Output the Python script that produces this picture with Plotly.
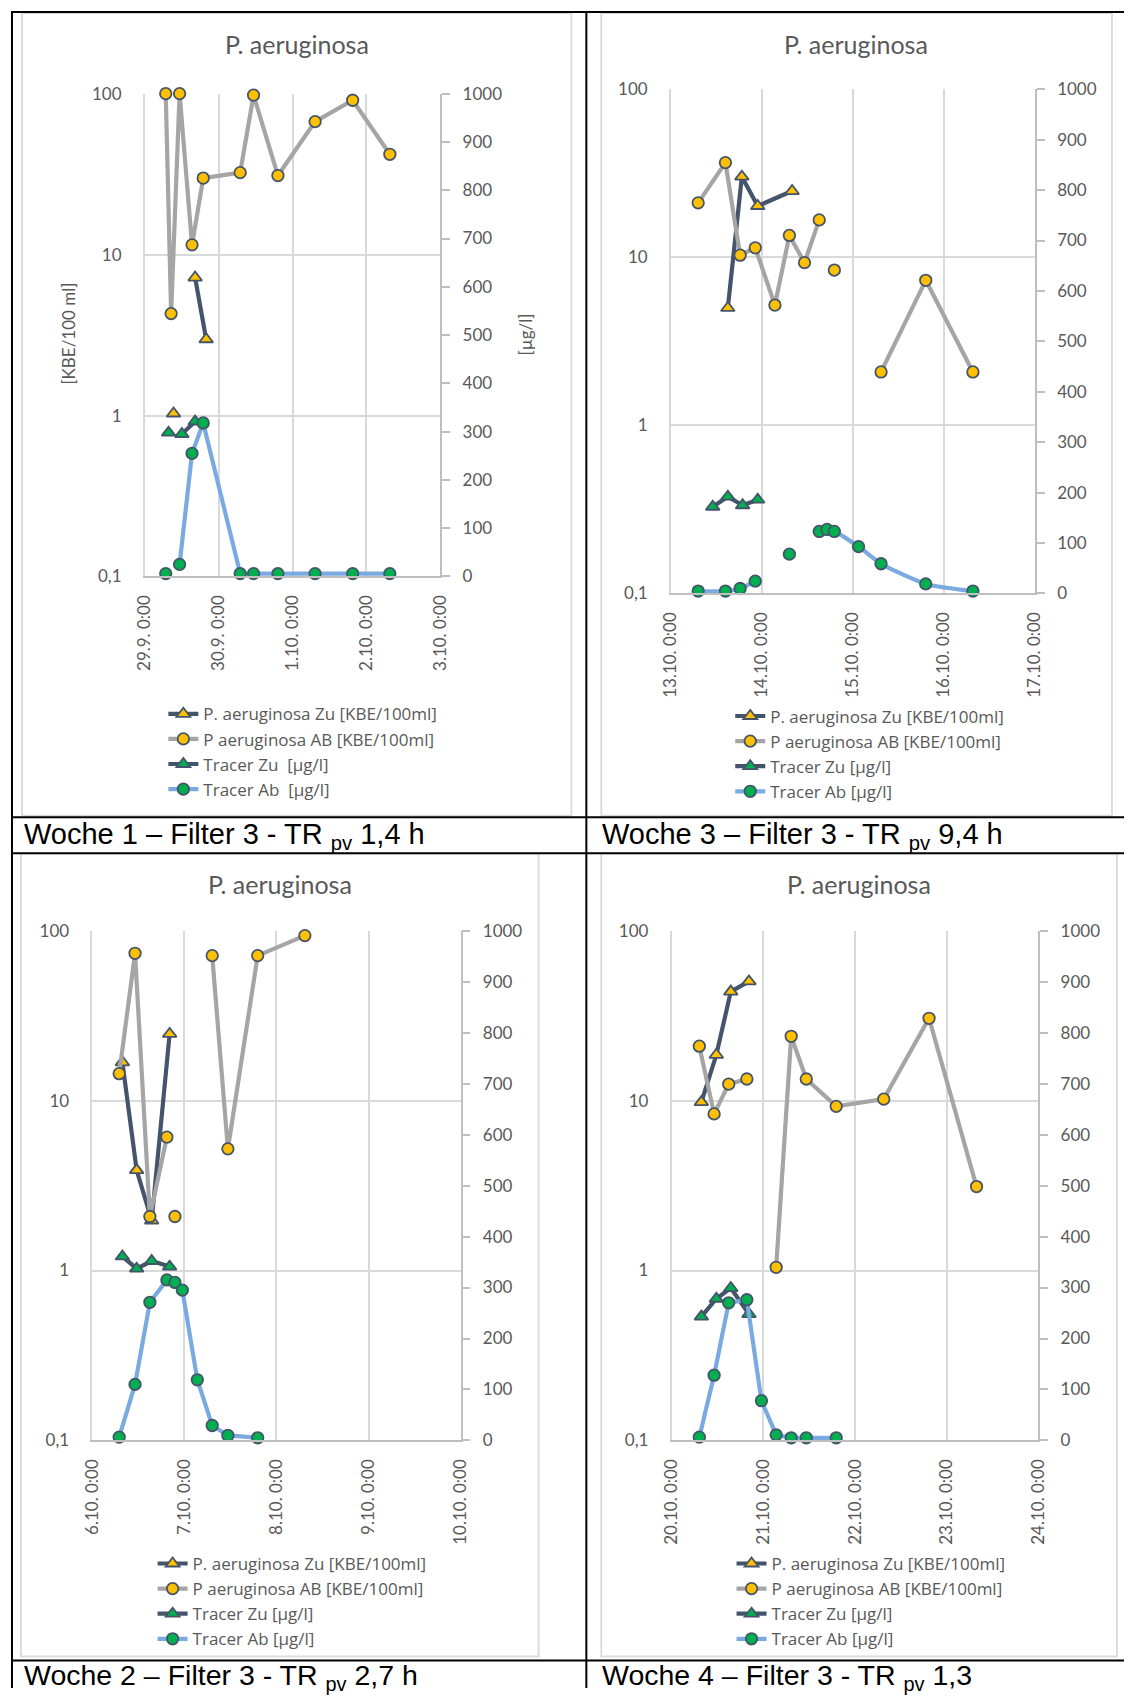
import plotly.graph_objects as go

W, H = 1134, 1698

# ---------------- data ----------------
NAMES = ["P. aeruginosa Zu [KBE/100ml]", "P aeruginosa AB [KBE/100ml]",
         "Tracer Zu [µg/l]", "Tracer Ab [µg/l]"]
NAMES_W1 = ["P. aeruginosa Zu [KBE/100ml]", "P aeruginosa AB [KBE/100ml]",
            "Tracer Zu \u00a0[µg/l]", "Tracer Ab \u00a0[µg/l]"]

# Woche 1 (29.9. - 3.10.)
w1_range = ["2019-09-29 00:00", "2019-10-03 00:00"]
w1_zu_x = ["2019-09-29 09:22", None, "2019-09-29 16:22", "2019-09-29 19:57"]
w1_zu_y = [1.03, None, 7.2, 2.98]
w1_ab_x = ["2019-09-29 06:50", "2019-09-29 08:35", "2019-09-29 11:20", "2019-09-29 15:22",
           "2019-09-29 19:00", "2019-09-30 07:00", "2019-09-30 11:20", "2019-09-30 19:15",
           "2019-10-01 07:19", "2019-10-01 19:31", "2019-10-02 07:35"]
w1_ab_y = [100, 4.3, 100, 11.5, 29.9, 32.3, 98, 31, 67, 91, 42]
w1_tzu_x = ["2019-09-29 07:45", None, "2019-09-29 12:04", "2019-09-29 16:22"]
w1_tzu_y = [298, None, 295, 321]
w1_tab_x = ["2019-09-29 06:50", None, "2019-09-29 11:20", "2019-09-29 15:22",
            "2019-09-29 19:00", "2019-09-30 07:00", "2019-09-30 11:20", "2019-09-30 19:15",
            "2019-10-01 07:19", "2019-10-01 19:31", "2019-10-02 07:35"]
w1_tab_y = [6, None, 25, 255, 318, 6, 6, 6, 6, 6, 6]

# Woche 3 (13.10. - 17.10.)
w3_range = ["2019-10-13 00:00", "2019-10-17 00:00"]
w3_zu_x = ["2019-10-13 15:01", "2019-10-13 18:43", "2019-10-13 22:54", "2019-10-14 07:58"]
w3_zu_y = [5.0, 30.2, 20.2, 24.8]
w3_ab_x = ["2019-10-13 07:12", "2019-10-13 14:23", "2019-10-13 18:16", "2019-10-13 22:15",
           "2019-10-14 03:26", "2019-10-14 07:15", "2019-10-14 11:14", "2019-10-14 15:07",
           None, "2019-10-14 19:06", None,
           "2019-10-15 07:25", "2019-10-15 19:12", "2019-10-16 07:38"]
w3_ab_y = [21.1, 36.6, 10.3, 11.4, 5.2, 13.5, 9.3, 16.7, None, 8.4, None, 2.08, 7.3, 2.08]
w3_tzu_x = ["2019-10-13 11:02", "2019-10-13 15:01", "2019-10-13 18:55", "2019-10-13 22:54"]
w3_tzu_y = [172, 192, 175, 186]
w3_tab_x = ["2019-10-13 07:12", "2019-10-13 14:23", "2019-10-13 18:16", "2019-10-13 22:15",
            None, "2019-10-14 07:15", None,
            "2019-10-14 15:07", "2019-10-14 17:10", "2019-10-14 19:06", "2019-10-15 01:29",
            "2019-10-15 07:25", "2019-10-15 19:12", "2019-10-16 07:38"]
w3_tab_y = [4.8, 4.8, 9.9, 24.5, None, 78, None, 123, 127, 123, 93, 59, 19, 4.8]

# Woche 2 (6.10. - 10.10.)
w2_range = ["2019-10-06 00:00", "2019-10-10 00:00"]
w2_zu_x = ["2019-10-06 07:50", "2019-10-06 11:33", "2019-10-06 15:28", "2019-10-06 20:09"]
w2_zu_y = [16.8, 3.9, 1.97, 24.7]
w2_ab_x = ["2019-10-06 07:00", "2019-10-06 11:08", "2019-10-06 15:00", "2019-10-06 19:26",
           None, "2019-10-06 21:32", None,
           "2019-10-07 07:15", "2019-10-07 11:20", "2019-10-07 19:06", "2019-10-08 07:24"]
w2_ab_y = [14.4, 73.6, 2.08, 6.1, None, 2.08, None, 71.3, 5.2, 71.3, 93.5]
w2_tzu_x = ["2019-10-06 07:50", "2019-10-06 11:33", "2019-10-06 15:28", "2019-10-06 20:09"]
w2_tzu_y = [361, 337, 352, 341]
w2_tab_x = ["2019-10-06 07:00", "2019-10-06 11:08", "2019-10-06 15:00", "2019-10-06 19:26",
            "2019-10-06 21:32", "2019-10-06 23:28", "2019-10-07 03:22", "2019-10-07 07:15",
            "2019-10-07 11:20", "2019-10-07 19:06"]
w2_tab_y = [6.5, 110, 271, 315, 310, 295, 119, 29.4, 9.8, 5.2]

# Woche 4 (20.10. - 24.10.)
w4_range = ["2019-10-20 00:00", "2019-10-24 00:00"]
w4_zu_x = ["2019-10-20 07:48", "2019-10-20 11:43", "2019-10-20 15:30", "2019-10-20 20:15"]
w4_zu_y = [9.8, 18.6, 43.8, 50.3]
w4_ab_x = ["2019-10-20 07:16", "2019-10-20 11:08", "2019-10-20 14:57", "2019-10-20 19:42",
           None, "2019-10-21 03:22", "2019-10-21 07:18", "2019-10-21 11:15",
           "2019-10-21 19:05", "2019-10-22 07:31", "2019-10-22 19:22", "2019-10-23 07:48"]
w4_ab_y = [20.9, 8.35, 12.5, 13.4, None, 1.045, 23.9, 13.4, 9.25, 10.2, 30.5, 3.12]
w4_tzu_x = ["2019-10-20 07:48", "2019-10-20 11:43", "2019-10-20 15:30", "2019-10-20 20:15"]
w4_tzu_y = [243, 278, 299, 248]
w4_tab_x = ["2019-10-20 07:16", "2019-10-20 11:08", "2019-10-20 14:57", "2019-10-20 19:42",
            "2019-10-20 23:31", "2019-10-21 03:22", "2019-10-21 07:18", "2019-10-21 11:15",
            "2019-10-21 19:05"]
w4_tab_y = [6.5, 128, 270, 276, 78, 11, 5.2, 5.2, 5.2]

CHART_TITLE = "P. aeruginosa"
CAPTIONS = ["Woche 1 – Filter 3 - TR <sub>pv</sub> 1,4 h",
            "Woche 3 – Filter 3 - TR <sub>pv</sub> 9,4 h",
            "Woche 2 – Filter 3 - TR <sub>pv</sub> 2,7 h",
            "Woche 4 – Filter 3 - TR <sub>pv</sub> 1,3"]
LEFT_TITLE = "[KBE/100 ml]"
RIGHT_TITLE = "[µg/l]"

# ---------------- styles ----------------
NAVY = "#44546A"
GREY = "#A5A5A5"
GOLD = "#FFC000"
GREEN = "#00B050"
LBLUE = "#7BAAE0"
GRID = "#D9D9D9"
AXL = "#BFBFBF"
TXT = "#595959"
FONT = "Lato, 'Open Sans', sans-serif"
LEGFONT = "'Open Sans', Lato, sans-serif"
LW = 4.2

# the page photo adds a small border and scale; map target pixel positions to figure pixels
OFF_X, SC_X = 10.0, 0.986
OFF_Y, SC_Y = 10.0, 0.988

def X(d):
    return min(max((d - OFF_X) / SC_X, 0.0), W)

def Y(d):
    return min(max((d - OFF_Y) / SC_Y, 0.0), H)

def px(x):
    return x / W

def py(y):
    return 1 - y / H

panels = [
    dict(data=(w1_zu_x, w1_zu_y, w1_ab_x, w1_ab_y, w1_tzu_x, w1_tzu_y, w1_tab_x, w1_tab_y),
         rng=w1_range, names=NAMES_W1, plot=(144.3, 441.4, 92.7, 575.7), box=(21, 573, 12, 815),
         leg=(202.5, 712.6), title=(297, 43.3), cap=(21, Y(835), 29), axis_titles=True, spline=False),
    dict(data=(w3_zu_x, w3_zu_y, w3_ab_x, w3_ab_y, w3_tzu_x, w3_tzu_y, w3_tab_x, w3_tab_y),
         rng=w3_range, names=NAMES, plot=(672.9, 1038.7, 88.3, 592.7), box=(603, 1116, 12, 815),
         leg=(772, 714.8), title=(859, 43.3), cap=(602, Y(835), 29), axis_titles=False, spline=True),
    dict(data=(w2_zu_x, w2_zu_y, w2_ab_x, w2_ab_y, w2_tzu_x, w2_tzu_y, w2_tab_x, w2_tab_y),
         rng=w2_range, names=NAMES, plot=(91.7, 461.7, 930, 1440), box=(20, 540, 853, 1656),
         leg=(191.7, 1562.6), title=(280, 883), cap=(21, 1686.5, 28.5), axis_titles=False, spline=False),
    dict(data=(w4_zu_x, w4_zu_y, w4_ab_x, w4_ab_y, w4_tzu_x, w4_tzu_y, w4_tab_x, w4_tab_y),
         rng=w4_range, names=NAMES, plot=(673.6, 1042.2, 930, 1440), box=(603, 1121, 853, 1656),
         leg=(773.3, 1562.6), title=(862, 883), cap=(602, 1686.5, 28.5), axis_titles=False, spline=False),
]

fig = go.Figure()
layout = dict(
    width=W, height=H, autosize=False,
    margin=dict(l=0, r=0, t=0, b=0),
    paper_bgcolor="white", plot_bgcolor="white",
    separators=",.",
    font=dict(family=FONT, color=TXT, size=17),
    showlegend=True,
)
shapes = []
annotations = []

for i, p in enumerate(panels):
    k = i + 1
    xa = "x" if k == 1 else f"x{k}"
    ya_n = 2 * k - 1
    yb_n = 2 * k
    ya = "y" if ya_n == 1 else f"y{ya_n}"
    yb = f"y{yb_n}"
    legname = "legend" if k == 1 else f"legend{k}"
    zu_x, zu_y, ab_x, ab_y, tzu_x, tzu_y, tab_x, tab_y = p["data"]
    names = p["names"]
    mline = dict(color=NAVY, width=1.8)

    fig.add_trace(go.Scatter(x=zu_x, y=zu_y, name=names[0], mode="lines+markers",
                             line=dict(color=NAVY, width=LW),
                             marker=dict(symbol="triangle-up", size=12, color=GOLD, line=mline),
                             xaxis=xa, yaxis=ya, legend=legname, cliponaxis=False))
    fig.add_trace(go.Scatter(x=ab_x, y=ab_y, name=names[1], mode="lines+markers",
                             line=dict(color=GREY, width=LW),
                             marker=dict(symbol="circle", size=11.5, color=GOLD, line=mline),
                             xaxis=xa, yaxis=ya, legend=legname, cliponaxis=False))
    fig.add_trace(go.Scatter(x=tzu_x, y=tzu_y, name=names[2], mode="lines+markers",
                             line=dict(color=NAVY, width=LW),
                             marker=dict(symbol="triangle-up", size=12, color=GREEN, line=mline),
                             xaxis=xa, yaxis=yb, legend=legname, cliponaxis=False))
    fig.add_trace(go.Scatter(x=tab_x, y=tab_y, name=names[3], mode="lines+markers",
                             line=dict(color=LBLUE, width=LW,
                                       shape="spline" if p["spline"] else "linear", smoothing=0.6),
                             marker=dict(symbol="circle", size=11.5, color=GREEN, line=mline),
                             xaxis=xa, yaxis=yb, legend=legname, cliponaxis=False))

    x0, x1, yt, ybm = p["plot"]
    xkey = "xaxis" if k == 1 else f"xaxis{k}"
    ykey_a = "yaxis" if ya_n == 1 else f"yaxis{ya_n}"
    ykey_b = f"yaxis{yb_n}"
    layout[xkey] = dict(
        domain=[px(X(x0)), px(X(x1))], anchor=ya, type="date", range=p["rng"],
        tick0=p["rng"][0], dtick=86400000, tickformat="%-d.%-m. %-H:%M",
        tickangle=-90, showgrid=True, gridcolor=GRID, gridwidth=1.5,
        showline=True, linecolor=AXL, linewidth=1.8, ticks="",
        ticklabelstandoff=10, tickfont=dict(size=17, color=TXT, family=FONT),
        zeroline=False, fixedrange=True,
    )
    layout[ykey_a] = dict(
        domain=[py(Y(ybm)), py(Y(yt))], anchor=xa, type="log", range=[-1, 2], dtick=1,
        showgrid=True, gridcolor=GRID, gridwidth=1.5,
        showline=True, linecolor=GRID, linewidth=1.5, ticks="",
        ticklabelstandoff=18, tickfont=dict(size=17, color=TXT, family=FONT),
        zeroline=False,
    )
    layout[ykey_b] = dict(
        overlaying=ya, anchor=xa, side="right", range=[0, 1000], dtick=100,
        showgrid=False, showline=True, linecolor=AXL, linewidth=1.5,
        ticks="outside", ticklen=8, tickcolor=AXL, tickwidth=1.5,
        ticklabelstandoff=9, tickfont=dict(size=17, color=TXT, family=FONT),
        zeroline=False,
    )
    # legend: target = left edge of the entry text, centre of the first entry row
    lx, ly = p["leg"]
    layout[legname] = dict(
        x=px(X(lx) - 40), y=py(Y(ly) - 17.3), xanchor="left", yanchor="top",
        bgcolor="rgba(0,0,0,0)", borderwidth=0,
        font=dict(size=17, color=TXT, family=LEGFONT), traceorder="normal",
        itemclick=False, itemdoubleclick=False,
    )
    bx0, bx1, by0, by1 = p["box"]
    shapes.append(dict(type="rect", xref="paper", yref="paper",
                       x0=px(X(bx0)), x1=px(X(bx1)), y0=py(Y(by1)), y1=py(Y(by0)),
                       line=dict(color=GRID, width=1.8), layer="below"))
    tx, ty = p["title"]
    annotations.append(dict(text=CHART_TITLE, x=px(X(tx)), y=py(Y(ty)), xref="paper", yref="paper",
                            xanchor="center", yanchor="middle", showarrow=False,
                            font=dict(size=25, color=TXT, family=FONT)))
    cx, cy_spec, cfs = p["cap"]
    annotations.append(dict(text=CAPTIONS[i], x=px(X(cx)), y=py(cy_spec),
                            xref="paper", yref="paper",
                            xanchor="left", yanchor="middle", showarrow=False,
                            font=dict(size=cfs, color="black", family="Liberation Sans, Arial")))
    if p["axis_titles"]:
        annotations.append(dict(text=LEFT_TITLE, x=px(X(68)), y=py(Y(333)), xref="paper", yref="paper",
                                xanchor="center", yanchor="middle", showarrow=False, textangle=-90,
                                font=dict(size=17, color=TXT, family=FONT)))
        annotations.append(dict(text=RIGHT_TITLE, x=px(X(527)), y=py(Y(334)), xref="paper", yref="paper",
                                xanchor="center", yanchor="middle", showarrow=False, textangle=-90,
                                font=dict(size=17, color=TXT, family=FONT)))

# table frame (black)
def hline(y, x0=0.0, x1=W):
    return dict(type="line", xref="paper", yref="paper", x0=px(x0), x1=px(x1), y0=py(y), y1=py(y),
                line=dict(color="black", width=2))

def vline(x, y0=0.0, y1=H):
    return dict(type="line", xref="paper", yref="paper", x0=px(x), x1=px(x), y0=py(y0), y1=py(y1),
                line=dict(color="black", width=2))

top_y = max(Y(9), 1.0)
left_x = max(X(6), 1.0)
shapes += [hline(top_y, 0, W), vline(left_x, top_y, H), vline(X(588), top_y, H),
           hline(Y(816.5), left_x, W), hline(Y(852.5), left_x, W), hline(Y(1660), left_x, W)]

layout["shapes"] = shapes
layout["annotations"] = annotations
fig.update_layout(**layout)
fig.write_html("out.html", config={"displayModeBar": False},
               post_script="document.body.style.margin='0';document.body.style.overflow='hidden';")
